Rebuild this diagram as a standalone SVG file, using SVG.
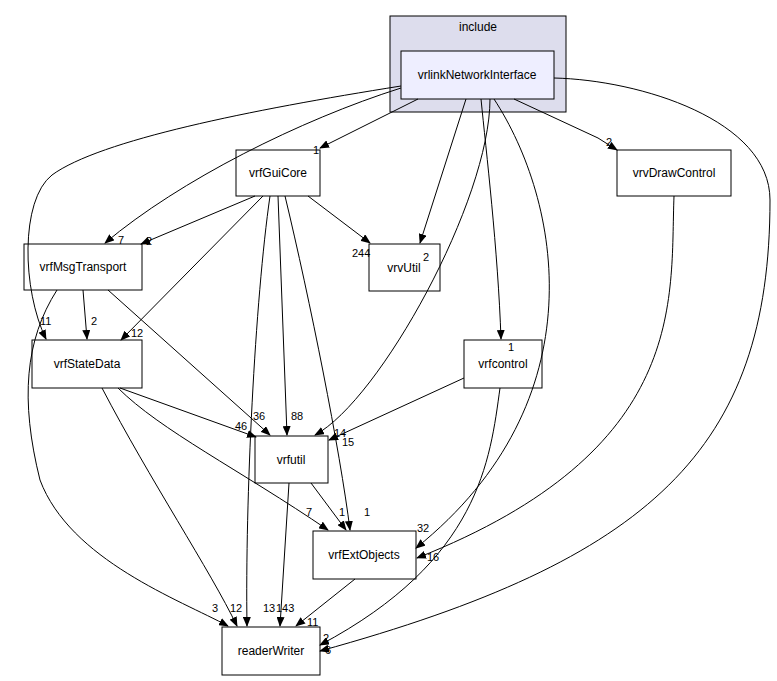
<svg xmlns="http://www.w3.org/2000/svg" width="777" height="681" viewBox="0 0 777 681">
<style>
text{font-family:"Liberation Sans",Arial,sans-serif;font-size:12px;fill:#000}
.n{fill:#fff;stroke:#000;stroke-width:1}
.l{font-size:11px}
#edges path{fill:none;stroke:#000;stroke-width:1;marker-end:url(#a)}
</style>
<defs><marker id="a" markerWidth="10" markerHeight="8" refX="9" refY="4" orient="auto" markerUnits="userSpaceOnUse"><path d="M0,0L10,4L0,8z" fill="#000"/></marker></defs>
<rect width="777" height="681" fill="#fff"/>
<g id="include"><rect x="390" y="16" width="176" height="96" fill="#dddded" stroke="#000"/><text x="478" y="31" text-anchor="middle">include</text></g>
<g id="vrlinkNetworkInterface"><rect x="401" y="51" width="153" height="48" fill="#eeeeff" stroke="#000"/><text x="477" y="79" text-anchor="middle">vrlinkNetworkInterface</text></g>
<g id="vrfGuiCore"><rect class="n" x="236" y="150" width="84" height="46"/><text x="278" y="177" text-anchor="middle">vrfGuiCore</text></g>
<g id="vrvDrawControl"><rect class="n" x="617" y="150" width="114" height="46"/><text x="674" y="177" text-anchor="middle">vrvDrawControl</text></g>
<g id="vrfMsgTransport"><rect class="n" x="24" y="244" width="118" height="46"/><text x="83" y="271" text-anchor="middle">vrfMsgTransport</text></g>
<g id="vrvUtil"><rect class="n" x="369" y="244" width="71" height="47"/><text x="404" y="272" text-anchor="middle">vrvUtil</text></g>
<g id="vrfStateData"><rect class="n" x="32" y="340" width="110" height="48"/><text x="87" y="368" text-anchor="middle">vrfStateData</text></g>
<g id="vrfcontrol"><rect class="n" x="464" y="340" width="78" height="48"/><text x="503" y="368" text-anchor="middle">vrfcontrol</text></g>
<g id="vrfutil"><rect class="n" x="255" y="436" width="73" height="47"/><text x="291" y="464" text-anchor="middle">vrfutil</text></g>
<g id="vrfExtObjects"><rect class="n" x="313" y="531" width="103" height="48"/><text x="364" y="559" text-anchor="middle">vrfExtObjects</text></g>
<g id="readerWriter"><rect class="n" x="222" y="627" width="98" height="48"/><text x="271" y="655" text-anchor="middle">readerWriter</text></g>
<g id="edges">
<path d="M418,99L320,148"/>
<path d="M514,99L598,138L617,150"/>
<path d="M466,99L420,243"/>
<path d="M481,99C486,150 498,250 501,339"/>
<path d="M490,99C490,200 380,400 315,435"/>
<path d="M494,99C560,200 600,400 416,548"/>
<path d="M554,78C640,80 770,120 770,200C770,450 650,560 320,651"/>
<path d="M401,88C300,120 180,180 105,243"/>
<path d="M401,86C250,110 100,140 52,175C20,200 22,290 46,339"/>
<path d="M255,196L141,244"/>
<path d="M308,196L370,243"/>
<path d="M263,196L121,340"/>
<path d="M278,196L287,435"/>
<path d="M285,196C310,300 340,450 350,530"/>
<path d="M270,196C255,300 245,500 247,626"/>
<path d="M83,290L87,339"/>
<path d="M108,290L270,435"/>
<path d="M57,290C25,340 20,400 40,480C70,560 180,600 228,626"/>
<path d="M120,388L256,437"/>
<path d="M118,388C160,430 240,470 328,530"/>
<path d="M102,388C150,480 210,570 237,626"/>
<path d="M464,378L329,440"/>
<path d="M500,388C490,460 480,560 320,645"/>
<path d="M674,196C670,300 690,450 417,558"/>
<path d="M311,483L346,530"/>
<path d="M289,483L280,626"/>
<path d="M355,579L296,626"/>
</g>
<g id="labels">
<text class="l" x="313" y="154">1</text>
<text class="l" x="606" y="146">2</text>
<text class="l" x="423" y="261">2</text>
<text class="l" x="508" y="351">1</text>
<text class="l" x="334" y="437">14</text>
<text class="l" x="417" y="532">32</text>
<text class="l" x="323" y="642">2</text>
<text class="l" x="325" y="654">6</text>
<text class="l" x="118" y="244">7</text>
<text class="l" x="40" y="325">11</text>
<text class="l" x="146" y="245">2</text>
<text class="l" x="352" y="257">244</text>
<text class="l" x="131" y="337">12</text>
<text class="l" x="291" y="420">88</text>
<text class="l" x="342" y="446">15</text>
<text class="l" x="263" y="612">13</text>
<text class="l" x="91" y="325">2</text>
<text class="l" x="253" y="420">36</text>
<text class="l" x="212" y="612">3</text>
<text class="l" x="235" y="430">46</text>
<text class="l" x="306" y="516">7</text>
<text class="l" x="230" y="612">12</text>
<text class="l" x="427" y="561">16</text>
<text class="l" x="339" y="516">1</text>
<text class="l" x="276" y="612">143</text>
<text class="l" x="307" y="626">11</text>
<text class="l" x="364" y="516">1</text>
</g>
</svg>
